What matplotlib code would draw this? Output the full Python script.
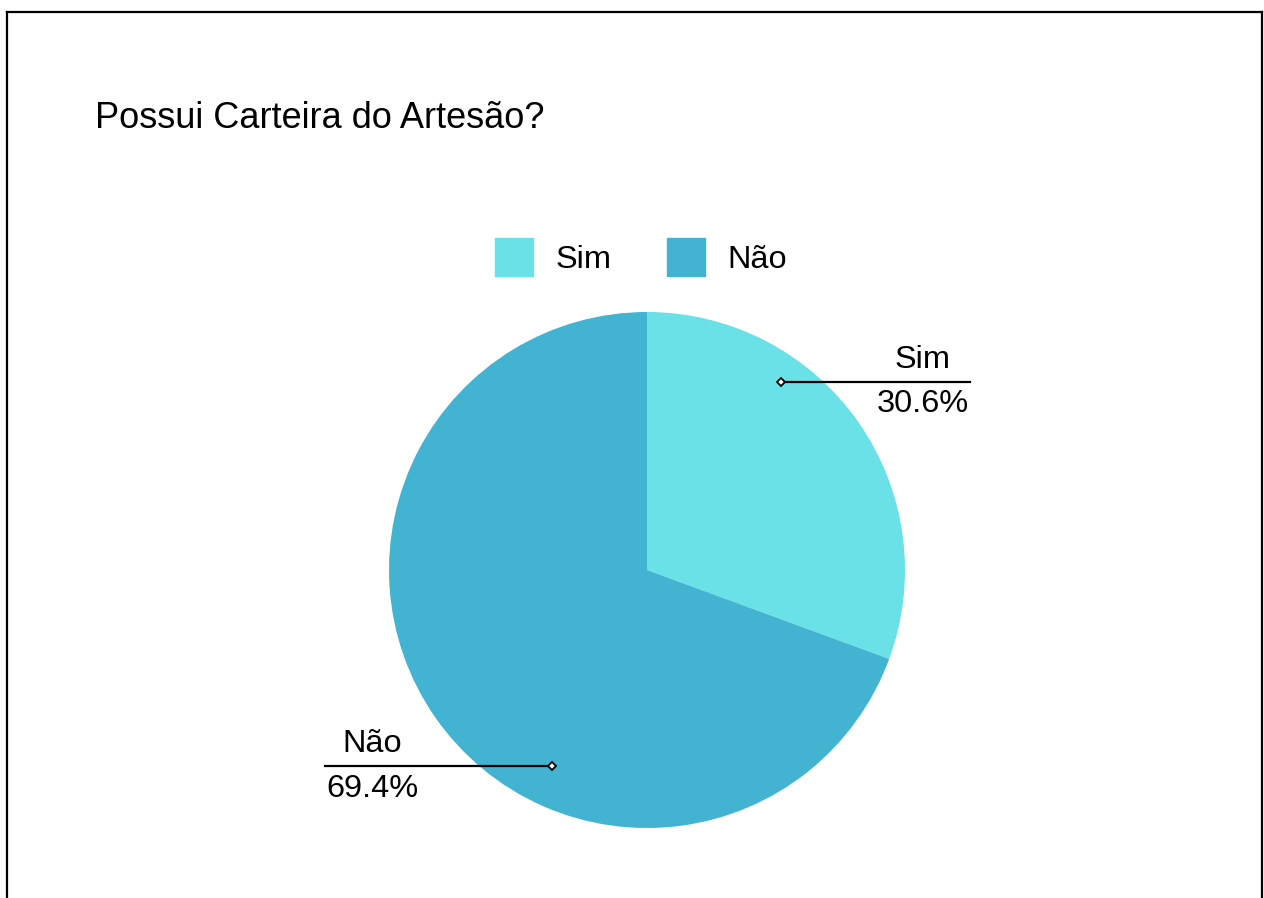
import matplotlib
matplotlib.use("Agg")
import matplotlib.pyplot as plt
from matplotlib.patches import Patch
from matplotlib.lines import Line2D

title = "Possui Carteira do Artesão?"
categories = ["Sim", "Não"]
values = [30.6, 69.4]
colors = ["#6ae1e6", "#42b4d2"]

plt.rcParams['font.family'] = ['Liberation Sans', 'DejaVu Sans']

W, H = 1264, 898
fig = plt.figure(figsize=(W / 100, H / 100), dpi=100)

# border (left, top, right)
for xs, ys in [([7 / W, 7 / W], [0, 1 - 12 / H]),
               ([7 / W, 1262 / W], [1 - 12 / H, 1 - 12 / H]),
               ([1262 / W, 1262 / W], [0, 1 - 12 / H])]:
    fig.add_artist(Line2D(xs, ys, color="black", lw=1.6, transform=fig.transFigure))

fig.text(95 / W, 1 - 119 / H, title, fontsize=26, va="center", ha="left")

cx, cy, r = 647, 570, 258
ax = fig.add_axes([(cx - r) / W, (H - cy - r) / H, 2 * r / W, 2 * r / H])
ax.pie(values, colors=colors, startangle=90, counterclock=False, radius=1)
ax.set_xlim(-1, 1)
ax.set_ylim(-1, 1)
ax.set_aspect("equal")
ax.axis("off")

fs = 23.4
# callouts: marker xy, line end x, text center x, label baseline y, pct baseline y
callouts = [
    ((0.519, 0.729), 1.252, 1.068, 0.783, 0.612),
    ((-0.368, -0.760), -1.248, -1.066, -0.705, -0.880),
]
for i, ((mx, my), lx, tx, ly1, ly2) in enumerate(callouts):
    ax.plot([mx, lx], [my, my], color="black", lw=1.6, clip_on=False)
    ax.plot([mx], [my], marker="D", ms=4.5, mfc="white", mec="black", mew=1.3, clip_on=False)
    ax.text(tx, ly1, categories[i], fontsize=fs, ha="center", va="baseline")
    ax.text(tx, ly2, f"{values[i]:.1f}%", fontsize=fs, ha="center", va="baseline")

fpx = fs * 100 / 72
handles = [Patch(facecolor=c, edgecolor=c) for c in colors]
fig.legend(handles, categories, loc="center", bbox_to_anchor=(641 / W, 1 - 257 / H),
           ncol=2, frameon=False, fontsize=fs,
           handlelength=38 / fpx, handleheight=39 / fpx * 39 / 33,
           handletextpad=22 / fpx, columnspacing=56 / fpx)

fig.savefig("out.png", dpi=100)
